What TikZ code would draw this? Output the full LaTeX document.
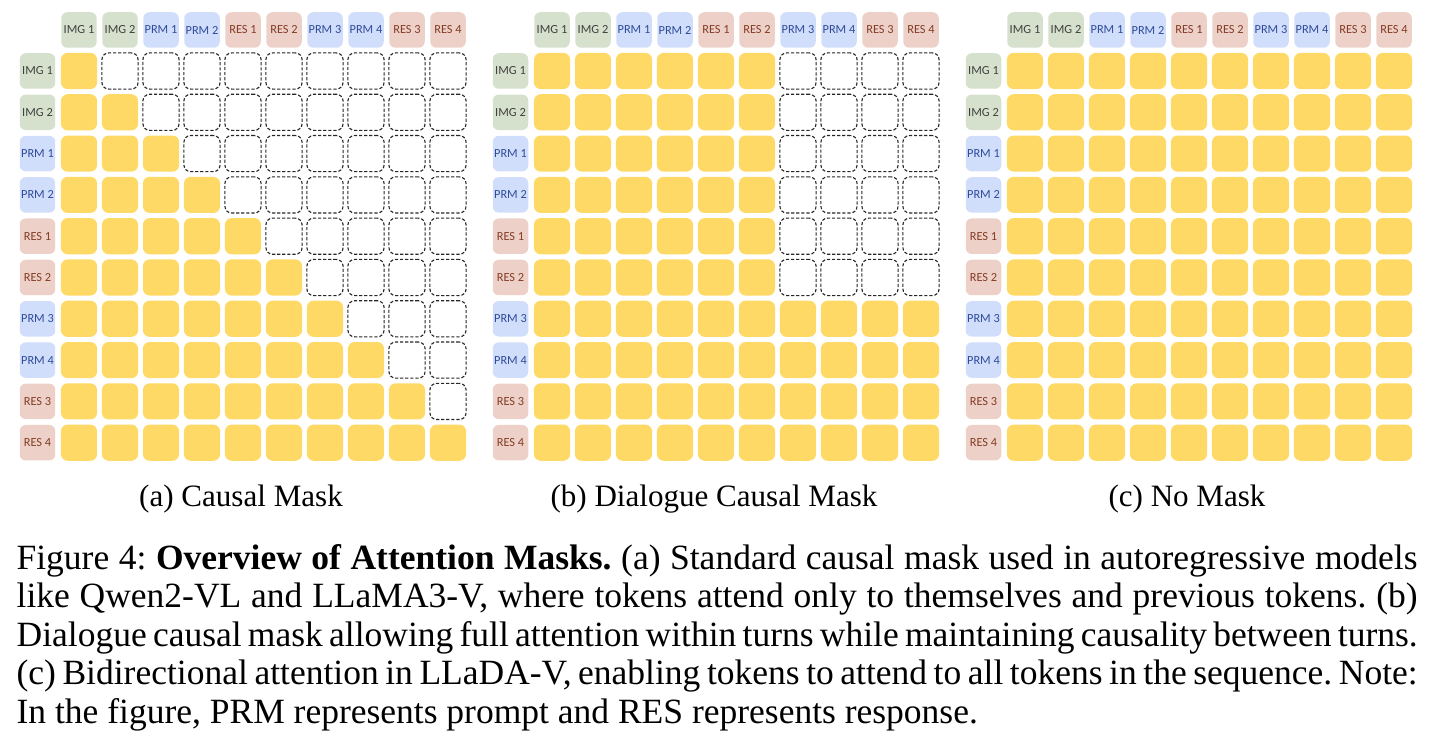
\documentclass[tikz,border=0pt]{standalone}
\usepackage{fontspec}
\setmainfont{Liberation Serif}
\newfontfamily\tokfont{Carlito}
\usepackage{xcolor}
\usetikzlibrary{positioning}
\definecolor{attnyellow}{HTML}{FFD966}
\definecolor{imgfill}{HTML}{D5E1CC}
\definecolor{imgtext}{HTML}{3F3F3F}
\definecolor{prmfill}{HTML}{D0DEFB}
\definecolor{prmtext}{HTML}{2F4B9A}
\definecolor{resfill}{HTML}{EDD1C9}
\definecolor{restext}{HTML}{843C24}
\tikzset{
  tok/.style={minimum size=11.2pt, inner sep=0pt, rounded corners=1.9pt, font=\tokfont\fontsize{3.9}{4.2}\selectfont},
  img/.style={tok, fill=imgfill, text=imgtext},
  prm/.style={tok, fill=prmfill, text=prmtext},
  res/.style={tok, fill=resfill, text=restext},
  cell/.style={minimum size=11.4pt, inner sep=0pt, rounded corners=2.1pt},
  attn/.style={cell, fill=attnyellow},
  masked/.style={cell, draw=black!85, line width=0.35pt, dash pattern=on 1pt off 0.6pt, fill=white},
  subcap/.style={font=\fontsize{9.8}{11}\selectfont, anchor=base, inner sep=0pt},
  capline/.style={font=\fontsize{11.2}{12.1}\selectfont\frenchspacing, anchor=base west, inner sep=0pt}
}

\begin{document}
\begin{tikzpicture}[x=0.3155pt, y=-0.3155pt]
    \useasboundingbox (0,0) rectangle (1432,740);
    % Three panels: a = causal, b = dialogue causal, c = no mask
    \foreach \g/\ox/\m/\title in {a/0/1/{(a) Causal Mask}, b/473/2/{(b) Dialogue Causal Mask}, c/946/3/{(c) No Mask}} {
      % Token labels (columns on top, rows on the left)
      \foreach \i/\txt/\kind in {1/IMG 1/img, 2/IMG 2/img, 3/PRM 1/prm, 4/PRM 2/prm, 5/RES 1/res,
                                 6/RES 2/res, 7/PRM 3/prm, 8/PRM 4/prm, 9/RES 3/res, 10/RES 4/res} {
        \node[\kind] (\g-h\i) at (\ox+79+41*\i-41, 30) {\txt};
        \node[\kind] (\g-r\i) at (\ox+37.5, 71+41.3*\i-41.3) {\txt};
      }
      % Mask cells
      \foreach \r in {1,...,10} {
        \foreach \c in {1,...,10} {
          \pgfmathtruncatemacro\seen{or(and(\m==1,\c<=\r), or(and(\m==2, or(\c<=6,\r>=7)), \m==3))}
          \ifnum\seen=1
            \node[attn] (\g-\r-\c) at (\ox+79+41*\c-41, 71+41.3*\r-41.3) {};
          \else
            \node[masked] (\g-\r-\c) at (\ox+79+41*\c-41, 71+41.3*\r-41.3) {};
          \fi
        }
      }
      \node[subcap] (\g-title) at (\ox+241, 506.7) {\title};
    }
    % Caption
    \node[capline] (cap1) at (16, 569.5) {\makebox[442pt][s]{Figure 4: \textbf{Overview of Attention Masks.} (a) Standard causal mask used in autoregressive models}};
    \node[capline] (cap2) at (16, 607.9) {\makebox[442pt][s]{like Qwen2-VL and LLaMA3-V, where tokens attend only to themselves and previous tokens. (b)}};
    \node[capline] (cap3) at (16, 646.4) {\makebox[442pt][s]{Dialogue causal mask allowing full attention within turns while maintaining causality between turns.}};
    \node[capline] (cap4) at (16, 684.8) {\makebox[442pt][s]{(c) Bidirectional attention in LLaDA-V, enabling tokens to attend to all tokens in the sequence. Note:}};
    \node[capline] (cap5) at (16, 723.3) {In the figure, PRM represents prompt and RES represents response.};
\end{tikzpicture}
\end{document}
